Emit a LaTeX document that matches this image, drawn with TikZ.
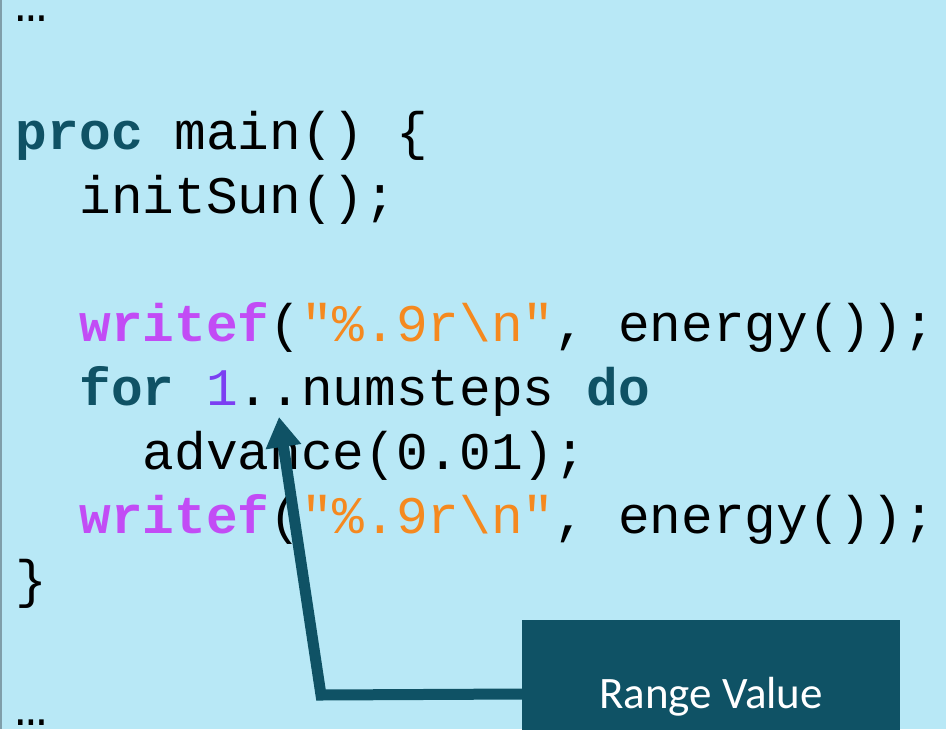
\documentclass[tikz,border=0pt]{standalone}
\usepackage{fontspec}
\usetikzlibrary{arrows.meta}
\newfontfamily\codefont{Liberation Mono}
\newfontfamily\labelfont{Carlito}
\definecolor{bgblue}{HTML}{B8E8F6}
\definecolor{kwteal}{HTML}{0F5265}
\definecolor{fnpurple}{HTML}{C24CF5}
\definecolor{numpurple}{HTML}{7B3FF2}
\definecolor{strorange}{HTML}{F5891F}
\definecolor{edgegray}{HTML}{7F9EAA}
\newcommand{\kw}[1]{\textbf{\textcolor{kwteal}{#1}}}
\newcommand{\fn}[1]{\textbf{\textcolor{fnpurple}{#1}}}
\newcommand{\str}[1]{\textcolor{strorange}{#1}}
\newcommand{\num}[1]{\textcolor{numpurple}{#1}}
\begin{document}
\begin{tikzpicture}[x=1pt,y=-1pt,
  codeline/.style={anchor=base west,inner sep=0pt,outer sep=0pt,
    font=\codefont\fontsize{52.8}{64}\selectfont\frenchspacing},
  callout/.style={fill=kwteal,draw=none,minimum width=378pt,minimum height=148pt,
    inner sep=0pt,text=white,text height=28pt,text depth=0pt,
    font=\labelfont\fontsize{45}{50}\selectfont},
  pointer/.style={draw=kwteal,line width=11pt,-{Triangle[width=34pt,length=30pt]}}]
  % canvas
  \fill[bgblue] (0,0) rectangle (946,729);
  \useasboundingbox (0,0) rectangle (946,729);
  \draw[edgegray,line width=1.5pt] (0.75,0) -- (0.75,729);
  % code listing, one node per line; column width 31.68pt
  \node[codeline] (l0) at (16,21) {…};
  \node[codeline] (l2) at (16,149) {\kw{proc} main() \{};
  \node[codeline] (l3) at (79.4,213) {initSun();};
  \node[codeline] (l5) at (79.4,341) {\fn{writef}(\str{"\%.9r\textbackslash n"}, energy());};
  \node[codeline] (l6) at (79.4,405) {\kw{for} \num{1}..numsteps \kw{do}};
  \node[codeline] (l7) at (142.7,469) {advance(0.01);};
  \node[codeline] (l8) at (79.4,533) {\fn{writef}(\str{"\%.9r\textbackslash n"}, energy());};
  \node[codeline] (l9) at (16,597) {\}};
  \node[codeline] (l11) at (16,725) {…};
  % callout box and its pointer
  \node[callout] (range) at (711,694) {Range Value};
  \coordinate (bend) at (321,695);
  \coordinate (tip) at (279,417);
  \draw[pointer] (range.west) -- (bend) -- (tip);
\end{tikzpicture}
\end{document}
